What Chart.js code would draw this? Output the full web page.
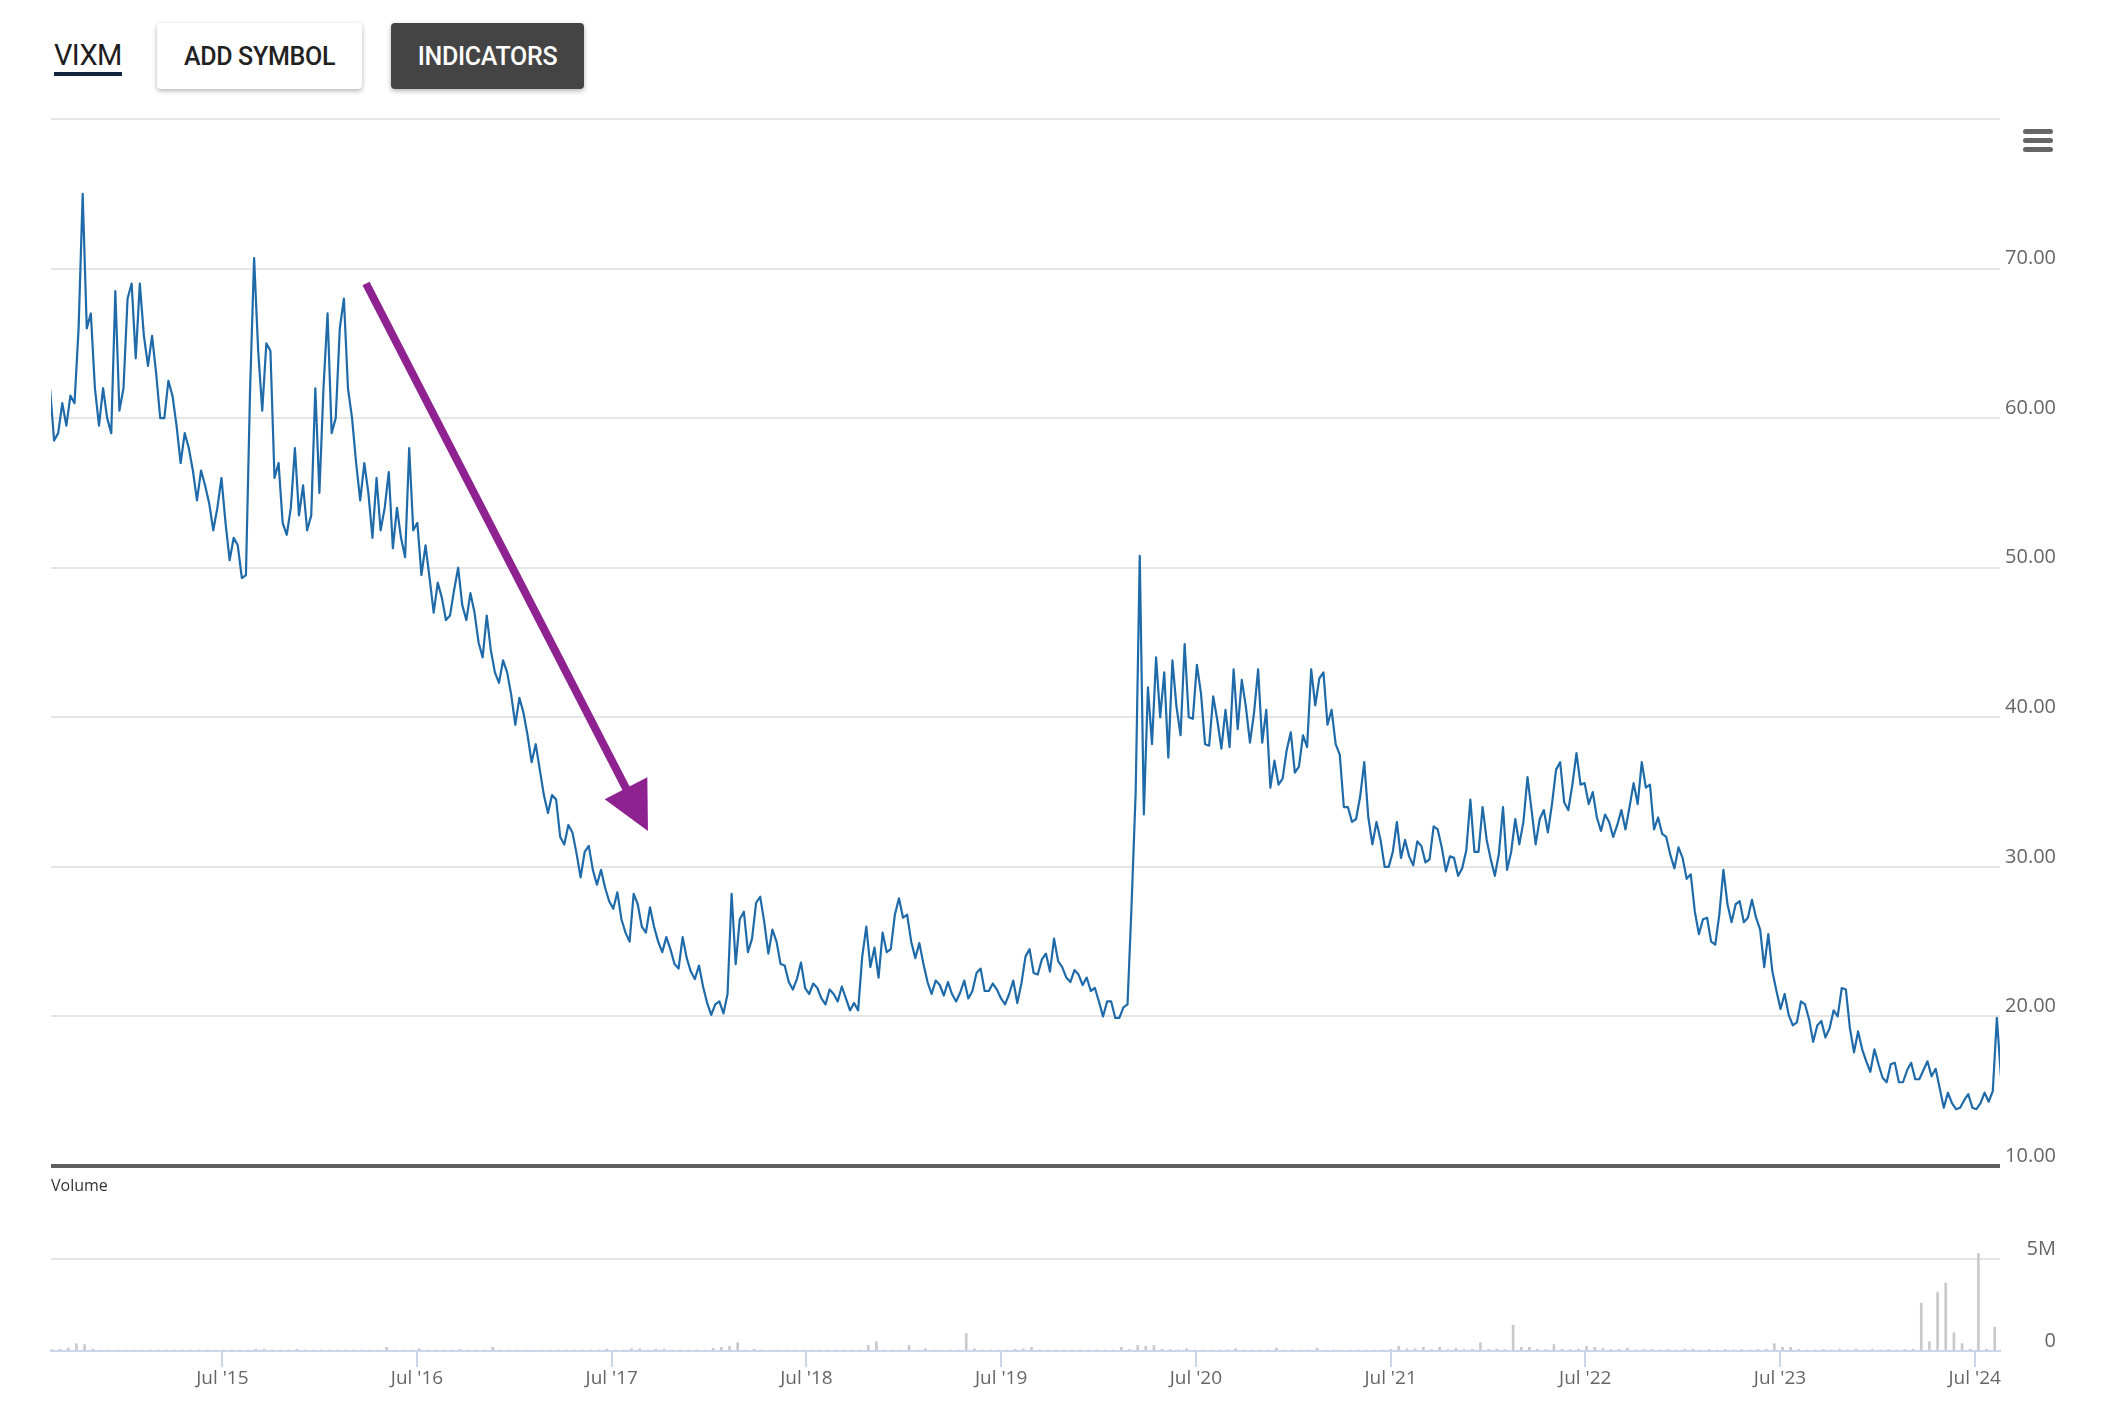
<!DOCTYPE html>
<html>
<head>
<meta charset="utf-8">
<script src="https://cdn.jsdelivr.net/npm/chart.js@4.4.1/dist/chart.umd.min.js"></script>
<style>
html,body{margin:0;padding:0;background:#fff;}
body{width:2112px;height:1405px;position:relative;overflow:hidden;font-family:Roboto,"Open Sans",sans-serif;}
.sym{position:absolute;left:54px;top:38px;font-size:29px;line-height:34px;color:#1d1d1d;letter-spacing:-0.6px;}
.uline{position:absolute;left:54px;top:72px;width:68px;height:4px;background:#14263d;}
.btn{position:absolute;top:23px;height:66px;border-radius:4px;box-shadow:0 2px 5px rgba(0,0,0,0.30);font-weight:500;font-size:25px;display:flex;align-items:center;justify-content:center;letter-spacing:-0.3px;}
.add{left:157px;width:205px;background:#fff;color:#222;}
.ind{left:391px;width:193px;background:#444;color:#fff;}
.ham{position:absolute;left:2023px;width:30px;height:5px;border-radius:3px;background:#666;}
.vol{position:absolute;left:51px;top:1175px;font-family:"Open Sans",sans-serif;font-size:16px;line-height:20px;color:#333;}
canvas{position:absolute;left:0;}
#c1{top:100px;}
#c2{top:1126px;}
</style>
</head>
<body>
<div class="sym">VIXM</div>
<div class="uline"></div>
<div class="btn add">ADD SYMBOL</div>
<div class="btn ind">INDICATORS</div>
<div class="ham" style="top:129px"></div>
<div class="ham" style="top:138px"></div>
<div class="ham" style="top:147px"></div>
<canvas id="c1" width="2112" height="1090"></canvas>
<canvas id="c2" width="2112" height="276"></canvas>
<div class="vol">Volume</div>
<script>
// ---- data ----
// VIXM price, two readings per half-month (band high/low), Aug 2014 -> Aug 2024
const price = [
62,58.5,59,61,59.5,61.5,61,66,75,66,67,62,59.5,62,60,59,68.5,60.5,62,68,69,64,69,65.5,63.5,65.5,63,60,60,62.5,61.5,59.5,57,59,58,56.5,54.5,56.5,55.5,54.3,52.5,54,56,53,50.5,52,51.5,49.3,
49.5,61.7,70.7,64.5,60.5,65,64.5,56,57,53,52.2,54,58,53.5,55.5,52.5,53.5,62,55,62,67,59,60,66,68,62,60,57,54.5,57,55,52,56,52.5,54,56.4,51.3,54,52,50.7,58,52.5,53,49.5,51.5,49.3,47,49,
48,46.5,46.8,48.5,50,47.5,46.5,48.3,47,45,44,46.8,44.5,43,42.3,43.8,43,41.5,39.5,41.3,40.3,38.8,37,38.2,36.5,34.8,33.6,34.8,34.5,32,31.5,32.8,32.3,30.9,29.3,31,31.4,29.8,28.8,29.8,28.6,27.7,27.2,28.3,26.5,25.6,25,28.2,
27.5,26,25.6,27.3,26,25,24.3,25.3,24.5,23.5,23.2,25.3,23.9,23,22.5,23.4,22,20.9,20.1,20.8,21,20.2,21.5,28.2,23.5,26.5,27,24.3,25.2,27.6,28,26.3,24.2,25.8,25,23.5,23.4,22.3,21.8,22.5,23.6,21.9,21.5,22.2,21.9,21.2,20.8,21.8,
21.5,21,22,21.2,20.4,20.9,20.4,24,26,23.3,24.6,22.6,25.6,24.3,24.5,26.8,27.9,26.6,26.8,25,23.9,24.9,23.5,22.3,21.5,22.4,22.1,21.4,22.3,21.5,21,21.6,22.4,21.2,21.7,22.9,23.2,21.7,21.7,22.2,21.8,21.2,20.8,21.5,22.4,20.9,22.2,24,
24.5,22.9,22.8,23.8,24.2,23,25.2,23.7,23.3,22.6,22.3,23.1,22.8,22.1,22.6,21.7,21.9,21,20,21,21,19.9,19.9,20.6,20.8,27.5,35,50.8,33.5,42,38.2,44,40,43,37.3,43.8,40.7,38.8,44.9,40,39.9,43.5,41.6,38.2,38.1,41.4,39.8,37.9,
40.5,38,43.2,39.2,42.5,40.7,38.3,40.3,43.2,38.3,40.5,35.3,37.1,35.5,35.9,37.8,39,36.3,36.7,38.8,38,43.2,40.8,42.6,43,39.5,40.5,38.2,37.5,34,34,33,33.2,34.7,37,33.3,31.5,33,31.8,30,30,31,33,30.6,31.8,30.7,30.1,31.7,
31.4,30.3,30.5,32.7,32.5,31.3,29.7,30.7,30.6,29.4,29.9,31.1,34.5,31,31,34,31.8,30.5,29.4,30.9,34,29.8,31,33.2,31.5,33,36,33.8,31.5,33.2,33.8,32.3,34.2,36.5,37,34.3,33.8,35.5,37.6,35.5,35.6,34.2,35,33.3,32.4,33.5,33,32,
32.8,33.8,32.5,34,35.6,34.2,37,35.3,35.5,32.5,33.3,32.2,32,30.8,29.9,31.3,30.6,29.2,29.5,27,25.5,26.5,26.6,25,24.8,26.8,29.8,27.5,26.3,27.5,27.7,26.3,26.6,27.8,26.6,25.8,23.3,25.5,23,21.7,20.5,21.5,20.1,19.4,19.6,21,20.8,19.8,
18.3,19.4,19.7,18.6,19.2,20.4,20,21.9,21.8,19.2,17.6,19,17.8,17,16.3,17.8,16.8,15.9,15.6,16.8,16.9,15.6,15.6,16.4,16.9,15.8,15.8,16.4,17,16,16.5,15.2,13.9,14.9,14.2,13.8,13.9,14.4,14.8,13.9,13.8,14.2,14.9,14.3,15,19.9,16,14.6
];
// Volume in millions, one reading per half-month
const volume = [
0.08,0.1,0.15,0.4,0.35,0.1,0.05,0.04,0.05,0.04,0.04,0.05,0.04,0.04,0.05,0.04,0.04,0.05,0.04,0.04,0.05,0.04,0.04,0.05,
0.05,0.1,0.1,0.04,0.05,0.04,0.1,0.04,0.05,0.04,0.04,0.05,0.04,0.04,0.05,0.04,0.04,0.2,0.05,0.04,0.05,0.12,0.05,0.04,
0.04,0.05,0.1,0.04,0.05,0.04,0.2,0.04,0.05,0.04,0.04,0.05,0.04,0.04,0.05,0.04,0.04,0.05,0.04,0.04,0.1,0.05,0.04,0.12,
0.12,0.05,0.1,0.1,0.05,0.04,0.05,0.04,0.05,0.15,0.2,0.25,0.45,0.05,0.1,0.04,0.05,0.04,0.04,0.05,0.04,0.05,0.04,0.04,
0.05,0.04,0.05,0.04,0.3,0.5,0.05,0.04,0.05,0.3,0.05,0.12,0.04,0.05,0.04,0.05,0.95,0.12,0.05,0.04,0.05,0.04,0.1,0.12,
0.2,0.05,0.04,0.05,0.04,0.05,0.04,0.05,0.04,0.05,0.06,0.2,0.08,0.3,0.25,0.3,0.1,0.08,0.06,0.12,0.06,0.05,0.05,0.06,
0.06,0.12,0.05,0.06,0.05,0.06,0.15,0.05,0.06,0.05,0.06,0.15,0.05,0.06,0.05,0.06,0.05,0.06,0.05,0.06,0.08,0.25,0.12,0.12,
0.2,0.08,0.2,0.08,0.15,0.08,0.1,0.45,0.08,0.1,0.08,1.4,0.2,0.2,0.1,0.08,0.35,0.1,0.08,0.1,0.25,0.2,0.15,0.08,
0.08,0.15,0.06,0.08,0.1,0.06,0.08,0.06,0.1,0.1,0.06,0.08,0.06,0.08,0.06,0.08,0.06,0.08,0.1,0.4,0.2,0.2,0.08,0.06,
0.06,0.08,0.06,0.1,0.06,0.1,0.06,0.1,0.06,0.08,0.06,0.08,0.1,2.6,0.5,3.2,3.7,1.0,0.4,0.1,5.3,0.1,1.3,0.2
];
// time axis (fractional years)
const xStart = 2014.62, xEnd = 2024.63;
const priceT0 = 2014.615, priceStep = 0.020962;   // date of each price reading
const volT0 = 2014.625, volStep = 0.041924;       // date of each volume reading
const julTicks = [2015.5,2016.5,2017.5,2018.5,2019.5,2020.5,2021.5,2022.5,2023.5,2024.5];
const julLabels = ["Jul '15","Jul '16","Jul '17","Jul '18","Jul '19","Jul '20","Jul '21","Jul '22","Jul '23","Jul '24"];
const priceTicks = [10,20,30,40,50,60,70,80];
const volTicks = [0,5,10];
// purple trend arrow (annotation, in data units)
const arrowFrom = {x: 2016.238, y: 69.0};
const arrowTo = {x: 2017.686, y: 32.4};

// ---- charts ----
Chart.defaults.font.family = "'Open Sans', sans-serif";
Chart.defaults.animation = false;

const arrowPlugin = {
  id: 'trendArrow',
  afterDatasetsDraw(chart) {
    const {ctx, scales} = chart;
    const x1 = scales.x.getPixelForValue(arrowFrom.x), y1 = scales.y.getPixelForValue(arrowFrom.y);
    const x2 = scales.x.getPixelForValue(arrowTo.x), y2 = scales.y.getPixelForValue(arrowTo.y);
    const dx = x2 - x1, dy = y2 - y1, len = Math.hypot(dx, dy);
    const ux = dx / len, uy = dy / len;
    const headLen = 48, headW = 24;
    const bx = x2 - ux * headLen, by = y2 - uy * headLen;
    ctx.save();
    ctx.strokeStyle = '#8e2290';
    ctx.fillStyle = '#8e2290';
    ctx.lineWidth = 8;
    ctx.beginPath();
    ctx.moveTo(x1, y1);
    ctx.lineTo(bx + ux * 3, by + uy * 3);
    ctx.stroke();
    ctx.beginPath();
    ctx.moveTo(x2, y2);
    ctx.lineTo(bx - uy * headW, by + ux * headW);
    ctx.lineTo(bx + uy * headW, by - ux * headW);
    ctx.closePath();
    ctx.fill();
    ctx.restore();
  }
};

new Chart(document.getElementById('c1'), {
  type: 'line',
  data: {
    datasets: [{
      data: price.map((v, i) => ({x: priceT0 + i * priceStep, y: v})),
      borderColor: '#1f6aa9',
      borderWidth: 2.2,
      pointRadius: 0,
      tension: 0,
      borderJoinStyle: 'round'
    }]
  },
  options: {
    responsive: false,
    devicePixelRatio: 1,
    layout: {padding: {left: 51, right: 56, top: 19, bottom: 24}},
    plugins: {legend: {display: false}, tooltip: {enabled: false}},
    scales: {
      x: {type: 'linear', min: xStart, max: xEnd, display: false},
      y: {
        position: 'right', min: 10, max: 80,
        afterBuildTicks: s => { s.ticks = priceTicks.map(v => ({value: v})); },
        afterFit: s => { s.width = 56; },
        border: {display: false},
        grid: {
          drawTicks: false,
          color: c => (c.tick && c.tick.value === 10) ? '#5e5e5e' : '#e6e6e6',
          lineWidth: c => (c.tick && c.tick.value === 10) ? 4 : 2
        },
        ticks: {
          crossAlign: 'far', padding: 6, labelOffset: -10,
          color: '#666', font: {size: 20},
          callback: v => v === 80 ? '' : Number(v).toFixed(2)
        }
      }
    }
  },
  plugins: [arrowPlugin]
});

new Chart(document.getElementById('c2'), {
  type: 'bar',
  data: {
    datasets: [{
      data: volume.map((v, i) => ({x: volT0 + i * volStep, y: v})),
      backgroundColor: '#c9c9c9',
      barThickness: 2,
      borderWidth: 0
    }]
  },
  options: {
    responsive: false,
    devicePixelRatio: 1,
    layout: {padding: {left: 51, right: 56, top: 41, bottom: 0}},
    plugins: {legend: {display: false}, tooltip: {enabled: false}},
    scales: {
      x: {
        type: 'linear', min: xStart, max: xEnd, offset: false,
        afterBuildTicks: s => { s.ticks = julTicks.map(v => ({value: v})); },
        afterFit: s => { s.height = 51; },
        border: {display: true, color: '#ccd6eb', width: 2},
        grid: {offset: false, drawOnChartArea: false, drawTicks: true, tickLength: 16, color: '#ccd6eb', lineWidth: 2},
        ticks: {
          padding: 0, color: '#666', font: {size: 19}, maxRotation: 0, autoSkip: false,
          callback: (v, i) => julLabels[i]
        }
      },
      y: {
        position: 'right', min: 0, max: 10,
        afterBuildTicks: s => { s.ticks = volTicks.map(v => ({value: v})); },
        afterFit: s => { s.width = 56; },
        border: {display: false},
        grid: {
          drawTicks: false,
          color: c => (c.tick && c.tick.value === 5) ? '#e6e6e6' : 'rgba(0,0,0,0)',
          lineWidth: 2
        },
        ticks: {
          crossAlign: 'far', padding: 29, labelOffset: -10,
          color: '#666', font: {size: 20},
          callback: v => v === 5 ? '5M' : (v === 0 ? '0' : '')
        }
      }
    }
  }
});
</script>
</body>
</html>
